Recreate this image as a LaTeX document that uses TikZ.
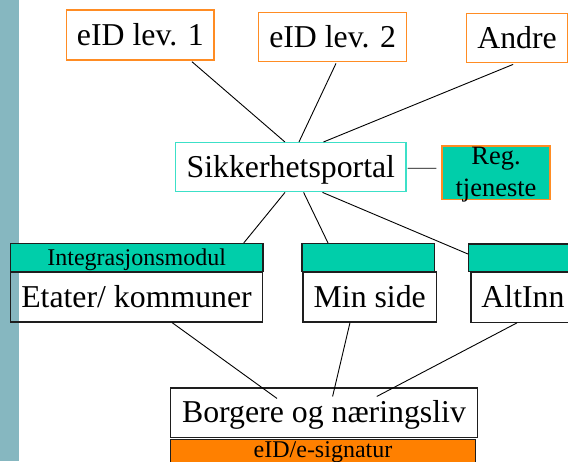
\documentclass[tikz,border=0pt]{standalone}
\usepackage{fontspec}
\setmainfont{Liberation Serif}
\usetikzlibrary{calc}
\definecolor{stripc}{RGB}{134,183,192}
\definecolor{tealc}{RGB}{0,206,170}
\definecolor{orgline}{RGB}{255,140,35}
\definecolor{orgfill}{RGB}{255,128,0}
\definecolor{turq}{RGB}{60,224,200}
\definecolor{darkline}{RGB}{30,30,30}
\begin{document}
\begin{tikzpicture}[x=1pt,y=-1pt,
  bigtxt/.style={font=\fontsize{31.8}{36}\selectfont, text height=27pt, text depth=6.9pt},
  smalltxt/.style={font=\fontsize{24}{28}\selectfont, text height=20.4pt, text depth=5.2pt},
  abox/.style={draw=orgline, line width=1.4pt, fill=white, inner sep=0pt, bigtxt},
  wbox/.style={draw=darkline, line width=1.1pt, inner sep=0pt, bigtxt},
  bar/.style={draw=darkline, line width=1.1pt, fill=tealc, inner sep=0pt, smalltxt},
  conn/.style={draw=black, line width=0.9pt}
]
\useasboundingbox (0,0) rectangle (568,461);
\fill[white] (0,0) rectangle (568,461);
\fill[stripc] (0,0) rectangle (19,461);

% top providers
\node[abox, minimum width=147.3pt, minimum height=50pt] (e1) at (140.35,35) {eID lev. 1};
\node[abox, minimum width=148pt, minimum height=49.4pt] (e2) at (332.7,37) {eID lev. 2};
\node[abox, minimum width=100.8pt, minimum height=49.4pt] (andre) at (517.1,38) {Andre};

% portal
\node[draw=turq, line width=1.4pt, fill=white, inner sep=0pt, bigtxt,
      minimum width=230.3pt, minimum height=49pt] (sik) at (290.85,167.2) {Sikkerhetsportal};
\node[draw=orgline, line width=1.4pt, fill=tealc, inner sep=0pt, align=center,
      font=\fontsize{26.5}{31.7}\selectfont, text depth=1.2pt,
      minimum width=108pt, minimum height=53.3pt] (reg) at (496,172.65) {Reg.\\tjeneste};

% middle row
\node[bar, minimum width=252.5pt, minimum height=28pt] (intbar) at (136.75,257.5) {Integrasjonsmodul};
\node[wbox, minimum width=252pt, minimum height=50pt] (etat) at (136.5,297) {Etater/ kommuner};
\node[bar, minimum width=132.5pt, minimum height=28pt] (minbar) at (368.25,257.5) {};
\node[wbox, minimum width=133.5pt, minimum height=50pt] (min) at (369.75,297) {Min side};
\node[bar, minimum width=103.5pt, minimum height=27.5pt] (altbar) at (520.25,257.75) {};
\node[wbox, minimum width=104pt, minimum height=50.3pt] (alt) at (523,297.15) {AltInn};

% bottom
\node[wbox, fill=white, minimum width=307pt, minimum height=49.5pt] (borg) at (324,412.75) {Borgere og næringsliv};
\node[draw=darkline, line width=1.1pt, fill=orgfill, inner sep=0pt, smalltxt, text height=14pt,
      minimum width=305pt, minimum height=28pt] (sig) at (323,453.5) {eID/e-signatur};

% connectors
\draw[conn] ($(e1.south)+(51.6,1)$) -- ($(sik.north)+(-5.9,0)$);
\draw[conn] ($(e2.south)+(3.3,1)$) -- ($(sik.north)+(8.1,0)$);
\draw[conn] ($(andre.south)+(-4,1)$) -- ($(sik.north)+(32.6,0)$);
\draw[conn] ($(sik.east)+(1,1)$) -- ($(reg.west)+(-5,-4.4)$);
\draw[conn] ($(sik.south)+(-5.85,0)$) -- ($(intbar.north)+(107,0)$);
\draw[conn] ($(sik.south)+(12.75,0)$) -- ($(minbar.north)+(-40.25,0)$);
\draw[conn] ($(sik.south)+(31.65,0)$) -- ($(altbar.west)+(0,-3.75)$);
\draw[conn] ($(etat.south)+(35.5,0)$) -- ($(borg.north)+(-47,11)$);
\draw[conn] ($(min.south)+(-19.75,0)$) -- ($(borg.north)+(8.6,9)$);
\draw[conn] ($(alt.south)+(-6,0)$) -- ($(borg.north)+(52.8,9)$);
\end{tikzpicture}
\end{document}
